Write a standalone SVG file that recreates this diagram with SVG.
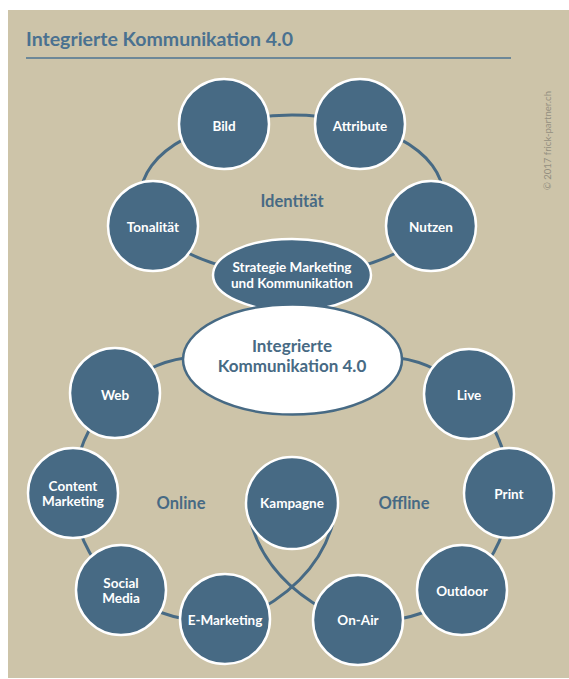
<svg xmlns="http://www.w3.org/2000/svg" width="569" height="679" viewBox="0 0 569 679">
<style>
.bg{fill:#cdc4a9}
.node{fill:#476a84;stroke:#ffffff;stroke-width:2.5}
.conn{fill:none;stroke:#476a84;stroke-width:3}
.lbl{font-family:Lato,"Open Sans",sans-serif;font-weight:700;font-size:13.5px;fill:#ffffff;text-anchor:middle}
.sec{font-family:Lato,"Open Sans",sans-serif;font-weight:700;font-size:16.5px;fill:#476a84;text-anchor:middle}
.title{font-family:Lato,"Open Sans",sans-serif;font-weight:700;font-size:19.5px;fill:#4a7190}
.center{font-family:Lato,"Open Sans",sans-serif;font-weight:700;font-size:17px;fill:#476a84;text-anchor:middle}
</style>
<rect x="0" y="0" width="569" height="679" fill="#ffffff"/>
<rect class="bg" x="8" y="10" width="561" height="668"/>
<text class="title" x="26" y="46">Integrierte Kommunikation 4.0</text>
<line x1="26" y1="58" x2="511" y2="58" stroke="#4d7493" stroke-width="1.3"/>
<text x="551" y="190" transform="rotate(-90 551 190)" font-family="Lato,'Open Sans',sans-serif" font-size="9.5" fill="#948f80">© 2017 frick-partner.ch</text>

<g id="connectors">
<ellipse class="conn" cx="292" cy="195" rx="151" ry="80"/>
<path class="conn" d="M115,393 Q148,363 185,358"/>
<path class="conn" d="M469,393 Q436,363 399,358"/>
<path class="conn" d="M115,393 Q74,439 73,493"/>
<path class="conn" d="M469,393 Q510,439 509,493"/>
<path class="conn" d="M73,493 Q75,550 121,590"/>
<path class="conn" d="M509,493 Q509,550 462,590"/>
<path class="conn" d="M121,590 Q169,627 225,619"/>
<path class="conn" d="M462,590 Q415,627 358,620"/>
<path class="conn" d="M249,515 Q262,575 325,610"/>
<path class="conn" d="M335,515 Q322,575 259,610"/>
</g>

<g id="bild"><circle class="node" cx="224" cy="124" r="45"/><text class="lbl" x="224" y="131">Bild</text></g>
<g id="attribute"><circle class="node" cx="360" cy="124" r="45"/><text class="lbl" x="360" y="131">Attribute</text></g>
<g id="tonalitaet"><circle class="node" cx="153" cy="226" r="45"/><text class="lbl" x="153" y="232">Tonalität</text></g>
<g id="nutzen"><circle class="node" cx="431" cy="226" r="45"/><text class="lbl" x="431" y="232">Nutzen</text></g>
<g id="identitaet"><text class="sec" x="292" y="207" font-weight="600">Identität</text></g>
<g id="strategie"><ellipse class="node" cx="292" cy="275" rx="79" ry="36"/><text class="lbl" x="292" y="272">Strategie Marketing</text><text class="lbl" x="292" y="288">und Kommunikation</text></g>
<g id="integrierte"><ellipse cx="292.5" cy="359.5" rx="109.5" ry="55" fill="#ffffff" stroke="#476a84" stroke-width="2.5"/><text class="center" x="292" y="352">Integrierte</text><text class="center" x="292" y="372">Kommunikation 4.0</text></g>

<g id="web"><circle class="node" cx="115" cy="393" r="45"/><text class="lbl" x="115" y="400">Web</text></g>
<g id="content"><circle class="node" cx="73" cy="493" r="45"/><text class="lbl" x="73" y="491">Content</text><text class="lbl" x="73" y="506">Marketing</text></g>
<g id="social"><circle class="node" cx="121" cy="590" r="45"/><text class="lbl" x="121" y="588">Social</text><text class="lbl" x="121" y="603">Media</text></g>
<g id="emarketing"><circle class="node" cx="225" cy="619" r="45"/><text class="lbl" x="225" y="625">E-Marketing</text></g>
<g id="kampagne"><circle class="node" cx="292" cy="503" r="46"/><text class="lbl" x="292" y="508">Kampagne</text></g>
<g id="onair"><circle class="node" cx="358" cy="620" r="45"/><text class="lbl" x="358" y="625">On-Air</text></g>
<g id="outdoor"><circle class="node" cx="462" cy="590" r="45"/><text class="lbl" x="462" y="596">Outdoor</text></g>
<g id="print"><circle class="node" cx="509" cy="493" r="45"/><text class="lbl" x="509" y="499">Print</text></g>
<g id="live"><circle class="node" cx="469" cy="394" r="45"/><text class="lbl" x="469" y="400">Live</text></g>
<g id="online"><text class="sec" x="181" y="509">Online</text></g>
<g id="offline"><text class="sec" x="404" y="509">Offline</text></g>
</svg>
